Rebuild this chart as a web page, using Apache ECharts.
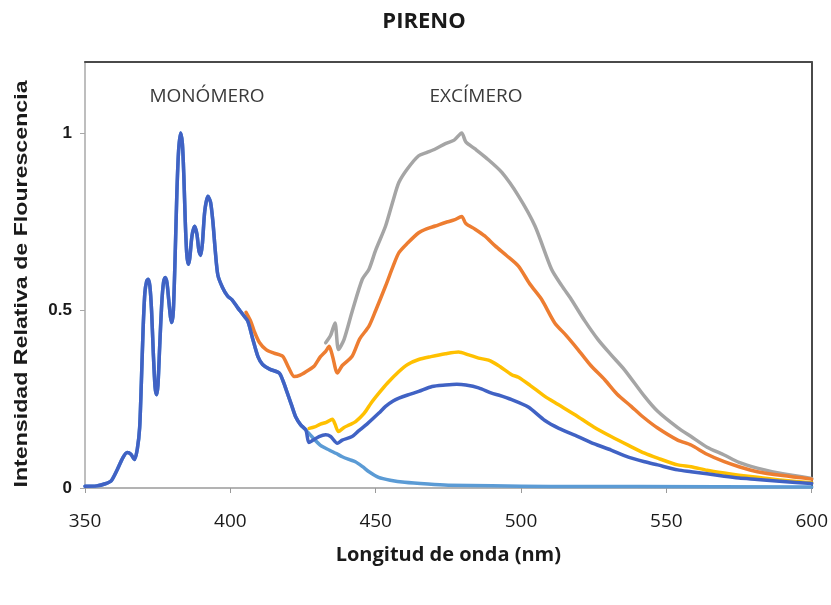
<!DOCTYPE html>
<html>
<head>
<meta charset="utf-8">
<script src="https://cdn.jsdelivr.net/npm/echarts@6/dist/echarts.min.js"></script>
<style>
  html, body { margin: 0; padding: 0; background: #fff; }
  #chart { width: 831px; height: 605px; }
</style>
</head>
<body>
<div id="chart"></div>
<script>
// Pyrene fluorescence emission spectra: [wavelength (nm), relative intensity]

// Monomer emission (vibronic bands), shared start of every spectrum
const monomer = [
  [350, 0.005], [354, 0.006], [357, 0.012], [359, 0.02], [361, 0.05], [363, 0.085],
  [364.5, 0.10], [365.8, 0.095], [367, 0.08], [368, 0.11], [368.8, 0.17], [369.4, 0.30],
  [370.0, 0.45], [370.6, 0.55], [371.2, 0.582], [371.7, 0.588], [372.3, 0.57], [372.9, 0.50],
  [373.5, 0.38], [374.1, 0.285], [374.6, 0.263], [375.1, 0.29], [375.7, 0.40], [376.4, 0.52],
  [377.0, 0.578], [377.6, 0.593], [378.2, 0.578], [378.8, 0.53], [379.4, 0.482], [379.9, 0.466],
  [380.4, 0.50], [381.0, 0.65], [381.6, 0.83], [382.2, 0.95], [382.9, 1.0], [383.5, 0.97],
  [384.0, 0.88], [384.5, 0.75], [385.0, 0.66], [385.5, 0.63], [386.0, 0.645], [386.8, 0.71],
  [387.7, 0.737], [388.5, 0.715], [389.2, 0.668], [389.8, 0.655], [390.4, 0.69], [391.2, 0.78],
  [392.3, 0.822], [393.2, 0.805], [394.0, 0.75], [394.8, 0.67], [395.7, 0.60], [397.3, 0.565],
  [399.1, 0.54], [400.6, 0.53], [402.5, 0.508], [404.2, 0.49], [406, 0.47], [407.7, 0.42],
  [409.5, 0.37], [411.1, 0.348], [413.5, 0.335], [416.8, 0.324], [418.2, 0.30], [419.5, 0.27],
  [421, 0.235], [422.5, 0.20], [424.2, 0.178], [426, 0.163]
];
// Monomer decay to baseline when no excimer forms
const monomerTail = [
  [428, 0.145], [431, 0.12], [434, 0.107], [436.5, 0.097], [438.5, 0.088], [441, 0.08],
  [443, 0.074], [445.5, 0.06], [447.7, 0.046], [451, 0.03], [455, 0.022], [460, 0.016],
  [468, 0.011], [475, 0.008], [490, 0.006], [510, 0.004], [540, 0.004], [600, 0.003]
];

// Excimer bands at increasing concentration
const excimerBlue = [
  [427, 0.128], [428.5, 0.135], [430.5, 0.145], [432.8, 0.15], [434.5, 0.145], [436.8, 0.126],
  [438.5, 0.135], [441.9, 0.145], [444, 0.16], [447, 0.18], [451.1, 0.211], [453.4, 0.23],
  [456, 0.245], [458, 0.253], [461, 0.262], [464.8, 0.272], [469.4, 0.286], [474, 0.29],
  [477.9, 0.292], [481, 0.29], [485.4, 0.282], [489.9, 0.267], [492.2, 0.262], [496.8, 0.249],
  [502.5, 0.228], [508.2, 0.19], [513, 0.168], [519.6, 0.145], [525, 0.125], [531, 0.107],
  [536, 0.09], [542.5, 0.074], [547, 0.065], [553.9, 0.051], [558.5, 0.046], [564, 0.04],
  [569.9, 0.033], [575, 0.028], [581.3, 0.024], [590, 0.018], [600, 0.013]
];
const excimerYellow = [
  [427.1, 0.168], [429, 0.172], [431, 0.18], [433, 0.185], [435.1, 0.194], [436, 0.18],
  [437.2, 0.159], [439, 0.17], [441, 0.178], [443.1, 0.187], [446, 0.21], [448.5, 0.24],
  [451.1, 0.267], [454, 0.295], [458, 0.328], [461, 0.348], [464.8, 0.362], [469, 0.37],
  [474, 0.378], [478.5, 0.383], [482, 0.375], [485.4, 0.366], [488.8, 0.36], [492.2, 0.345],
  [496.8, 0.319], [499.1, 0.312], [503, 0.29], [508.2, 0.258], [512.8, 0.235], [519.6, 0.201],
  [525, 0.172], [531, 0.145], [537, 0.12], [542.5, 0.098], [547, 0.084], [553.9, 0.065],
  [558.5, 0.06], [564, 0.05], [569.9, 0.042], [575, 0.036], [581.3, 0.03], [590, 0.022],
  [600, 0.015]
];
const excimerOrange = [
  [405.4, 0.495], [407, 0.47], [408.3, 0.44], [410, 0.41], [412.3, 0.39], [415, 0.38],
  [418, 0.371], [420, 0.34], [422, 0.314], [424, 0.318], [427.1, 0.333], [429, 0.345],
  [431, 0.37], [432.8, 0.385], [434, 0.399], [435.2, 0.37], [436.8, 0.324], [438.5, 0.345],
  [441.9, 0.371], [444.5, 0.42], [447.7, 0.456], [450, 0.50], [453.4, 0.569], [456, 0.625],
  [458, 0.663], [461, 0.69], [464.8, 0.719], [467.5, 0.73], [470.5, 0.738], [474, 0.748],
  [477, 0.755], [479.6, 0.765], [481, 0.745], [484.2, 0.729], [487.5, 0.71], [491.1, 0.682],
  [495, 0.655], [499.1, 0.625], [503, 0.575], [507.1, 0.531], [511.6, 0.465], [515.5, 0.43],
  [519.6, 0.39], [524, 0.345], [528.8, 0.305], [533, 0.265], [537.9, 0.23], [542, 0.20],
  [547, 0.169], [553.9, 0.135], [558.5, 0.121], [564, 0.095], [569.9, 0.074], [575, 0.06],
  [581.3, 0.046], [590, 0.035], [600, 0.025]
];
const excimerGray = [
  [432.8, 0.409], [434.5, 0.43], [436, 0.465], [437.2, 0.39], [439.1, 0.418], [442, 0.50],
  [445.4, 0.588], [447.7, 0.616], [450, 0.67], [453.4, 0.738], [456, 0.81], [458, 0.861],
  [461, 0.90], [464.8, 0.936], [467.5, 0.945], [470.5, 0.955], [474, 0.97], [477, 0.98],
  [479.6, 1.0], [481, 0.975], [484.2, 0.955], [488, 0.93], [493.4, 0.889], [499.1, 0.823],
  [504.8, 0.738], [510.5, 0.616], [514, 0.57], [517.3, 0.531], [522, 0.47], [526.5, 0.418],
  [531, 0.375], [535.6, 0.333], [542.5, 0.258], [547, 0.216], [553.9, 0.17], [558.5, 0.145],
  [564, 0.115], [569.9, 0.093], [575, 0.072], [581.3, 0.056], [590, 0.04], [600, 0.027]
];

// Axis ticks
const xTicks = [350, 400, 450, 500, 550, 600];
const yTicks = [0, 0.5, 1];

const chart = echarts.init(document.getElementById('chart'), null, { renderer: 'canvas' });

const lineSeries = (name, data, color, z) => ({
  name, type: 'line', data, showSymbol: false, symbol: 'none', z, smooth: 0.25,
  lineStyle: { color, width: 3.5, cap: 'round', join: 'round' }, itemStyle: { color }, animation: false
});

chart.setOption({
  animation: false,
  backgroundColor: '#ffffff',
  grid: { left: 85, right: 16, top: 62, bottom: 117 },
  xAxis: [{
    type: 'value', min: 350, max: 600, interval: 50,
    name: 'Longitud de onda (nm)', nameLocation: 'middle', nameGap: 57,
    nameTextStyle: { fontFamily: 'Open Sans', fontWeight: 'bold', fontSize: 20, color: '#1a1a1a' },
    axisLine: { onZero: false, lineStyle: { color: '#9a9a9a', width: 1.5 } },
    axisTick: { show: true, length: 5, lineStyle: { color: '#9a9a9a' }, customValues: xTicks },
    axisLabel: { customValues: xTicks, margin: 24, fontFamily: 'Open Sans', fontSize: 19, color: '#1a1a1a' },
    splitLine: { show: false }
  }, {
    type: 'value', position: 'top', min: 350, max: 600,
    axisLine: { show: true, onZero: false, lineStyle: { color: '#4a4a4a', width: 2 } },
    axisTick: { show: false }, axisLabel: { show: false }, splitLine: { show: false }
  }],
  yAxis: [{
    type: 'value', min: 0, max: 1.2, interval: 0.5,
    axisLine: { show: true, onZero: false, lineStyle: { color: '#a8a8a8', width: 1.5 } },
    axisTick: { show: true, length: 5, lineStyle: { color: '#a8a8a8' }, customValues: yTicks },
    axisLabel: {
      customValues: yTicks, margin: 13, fontFamily: 'Liberation Sans', fontWeight: 'bold',
      fontSize: 17, color: '#1a1a1a', formatter: v => String(v)
    },
    splitLine: { show: false }
  }, {
    type: 'value', position: 'right', min: 0, max: 1.2,
    axisLine: { show: true, onZero: false, lineStyle: { color: '#4a4a4a', width: 2 } },
    axisTick: { show: false }, axisLabel: { show: false }, splitLine: { show: false }
  }],
  graphic: [
    {
      type: 'text', x: 424, y: 22, z: 10,
      style: { text: 'PIRENO', font: 'bold 22px "Open Sans"', fill: '#1a1a1a', align: 'center', verticalAlign: 'middle' }
    },
    {
      // vertical axis title, stretched along its length
      type: 'text', x: 22, y: 284, rotation: Math.PI / 2, scaleX: 1.22, z: 10,
      style: {
        text: 'Intensidad Relativa de Flourescencia', font: 'bold 19px "Liberation Sans"',
        fill: '#1a1a1a', align: 'center', verticalAlign: 'middle'
      }
    },
    {
      type: 'text', x: 207, y: 97, z: 10,
      style: { text: 'MONÓMERO', font: '19px "Open Sans"', fill: '#3a3a3a', align: 'center', verticalAlign: 'middle' }
    },
    {
      type: 'text', x: 476, y: 97, z: 10,
      style: { text: 'EXCÍMERO', font: '19px "Open Sans"', fill: '#3a3a3a', align: 'center', verticalAlign: 'middle' }
    }
  ],
  series: [
    lineSeries('Monómero', monomer.concat(monomerTail), '#5b9bd5', 2),
    lineSeries('Excímero 4', excimerGray, '#a5a5a5', 3),
    lineSeries('Excímero 3', excimerOrange, '#ed7d31', 4),
    lineSeries('Excímero 2', excimerYellow, '#ffc000', 5),
    lineSeries('Excímero 1', monomer.concat(excimerBlue), '#4062c4', 6)
  ]
});
</script>
</body>
</html>
